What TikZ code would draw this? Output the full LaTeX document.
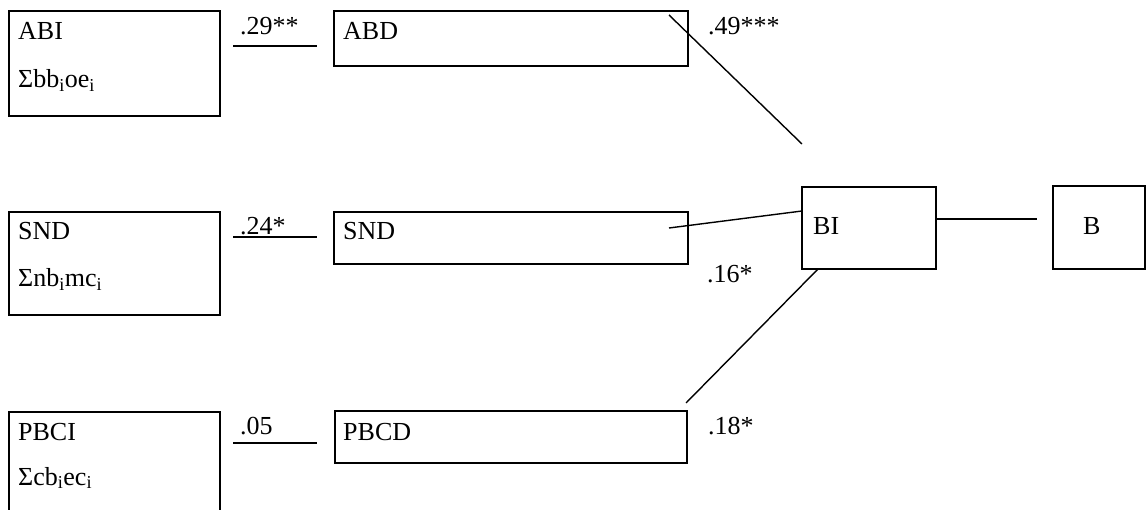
\documentclass[tikz,border=0pt]{standalone}
\usepackage{fontspec}
\setmainfont{Liberation Serif}
\begin{document}
\begin{tikzpicture}[x=1pt,y=-1pt,
  box/.style={draw,line width=1.5pt,inner sep=0pt},
  lbl/.style={anchor=base west,inner sep=0pt,font=\fontsize{26}{30}\selectfont},
  conn/.style={line width=1.4pt}]
\useasboundingbox (0,0) rectangle (1146,510);
\begin{scope}
\clip (0,0) rectangle (1146,510);
% boxes
\node[box,minimum width=211pt,minimum height=105pt] (abi) at (114.5,63.5) {};
\node[box,minimum width=211pt,minimum height=103pt] (sndI) at (114.5,263.5) {};
\node[box,minimum width=211pt,minimum height=105pt] (pbci) at (114.5,464.5) {};
\node[box,minimum width=354pt,minimum height=55pt] (abd) at (511,38.5) {};
\node[box,minimum width=354pt,minimum height=52pt] (snd) at (511,238) {};
\node[box,minimum width=352pt,minimum height=52pt] (pbcd) at (511,437) {};
\node[box,minimum width=134pt,minimum height=82pt] (bi) at (869,228) {};
\node[box,minimum width=92pt,minimum height=83pt] (b) at (1099,227.5) {};
\end{scope}
% texts
\node[lbl] (tabi) at (18,40) {ABI};
\node[lbl] (sabi) at (18,88) {Σbb\textsubscript{i}oe\textsubscript{i}};
\node[lbl] (tsnd) at (18,240) {SND};
\node[lbl] (ssnd) at (18,287) {Σnb\textsubscript{i}mc\textsubscript{i}};
\node[lbl] (tpbci) at (18,440) {PBCI};
\node[lbl] (spbci) at (18,485) {Σcb\textsubscript{i}ec\textsubscript{i}};
\node[lbl] (tabd) at (343,40) {ABD};
\node[lbl] (tsnd2) at (343,240) {SND};
\node[lbl] (tpbcd) at (343,440) {PBCD};
\node[lbl] (tbi) at (813,235) {BI};
\node[lbl] (tb) at (1083,235) {B};
% coefficients
\node[lbl] (c29) at (240,35) {.29**};
\node[lbl] (c24) at (240,235) {.24*};
\node[lbl] (c05) at (240,435) {.05};
\node[lbl] (c49) at (708,35) {.49***};
\node[lbl] (c16) at (707,283) {.16*};
\node[lbl] (c18) at (708,435) {.18*};
% connector end points
\coordinate (l1a) at (233,46); \coordinate (l1b) at (317,46);
\coordinate (l2a) at (233,237); \coordinate (l2b) at (317,237);
\coordinate (l3a) at (233,443); \coordinate (l3b) at (317,443);
\coordinate (abdin) at (669,15); \coordinate (abdend) at (802,144);
\coordinate (sndin) at (669,228); \coordinate (biL) at (802,211);
\coordinate (biB) at (818,269); \coordinate (pbcdTR) at (686,403);
\coordinate (biR) at (936,219); \coordinate (bL) at (1037,219);
% connectors
\draw[conn] (l1a) -- (l1b);
\draw[conn] (l2a) -- (l2b);
\draw[conn] (l3a) -- (l3b);
\draw[conn] (abdin) -- (abdend);
\draw[conn] (sndin) -- (biL);
\draw[conn] (biB) -- (pbcdTR);
\draw[conn] (biR) -- (bL);
\end{tikzpicture}
\end{document}
